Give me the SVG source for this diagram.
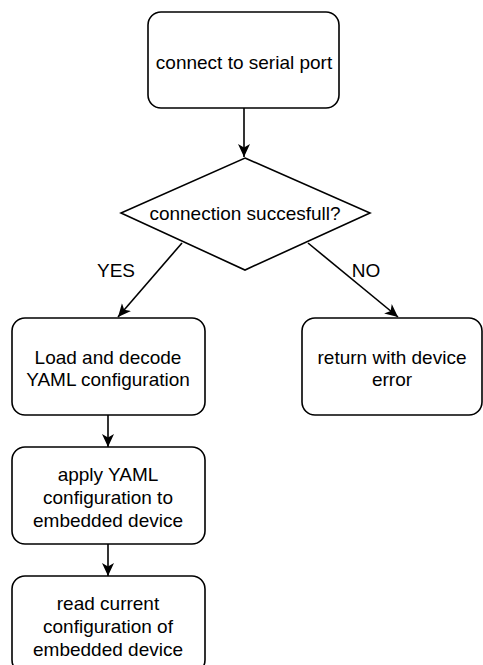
<svg xmlns="http://www.w3.org/2000/svg" width="483" height="665" viewBox="0 0 483 665">
<defs>
<style>
.n{fill:#fff;stroke:#000;stroke-width:1.6}
.t{font-family:"Liberation Sans",Arial,sans-serif;font-size:19px;fill:#000;text-anchor:middle}
.c{fill:none;stroke:#000;stroke-width:1.6}
</style>
<marker id="ah" markerWidth="14" markerHeight="14" viewBox="0 0 14 14" refX="13" refY="7" orient="auto" markerUnits="userSpaceOnUse">
<path d="M0,1 L13,7 L0,13 L3.5,7 Z" fill="#000"/>
</marker>
</defs>
<rect width="483" height="665" fill="#fff"/>
<g id="connectors">
<line class="c" x1="244" y1="108" x2="244" y2="157" marker-end="url(#ah)"/>
<line class="c" x1="182" y1="243" x2="118" y2="317" marker-end="url(#ah)"/>
<line class="c" x1="308" y1="243" x2="398" y2="317" marker-end="url(#ah)"/>
<line class="c" x1="108" y1="415" x2="108" y2="447" marker-end="url(#ah)"/>
<line class="c" x1="108" y1="544" x2="108" y2="576" marker-end="url(#ah)"/>
<text class="t" x="116" y="277">YES</text>
<text class="t" x="366" y="277">NO</text>
</g>
<g id="connect">
<rect class="n" x="148" y="12" width="191" height="96" rx="13"/>
<text class="t" x="244" y="69">connect to serial port</text>
</g>
<g id="decision">
<polygon class="n" points="245,158 370,213 245,270 121,213"/>
<text class="t" x="245" y="220">connection succesfull?</text>
</g>
<g id="load">
<rect class="n" x="12" y="318" width="193" height="97" rx="13"/>
<text class="t" x="108" y="364">Load and decode</text>
<text class="t" x="108" y="386">YAML configuration</text>
</g>
<g id="error">
<rect class="n" x="302" y="318" width="180" height="97" rx="13"/>
<text class="t" x="392" y="364">return with device</text>
<text class="t" x="392" y="386">error</text>
</g>
<g id="apply">
<rect class="n" x="12" y="447" width="193" height="97" rx="13"/>
<text class="t" x="108" y="481">apply YAML</text>
<text class="t" x="108" y="504">configuration to</text>
<text class="t" x="108" y="527">embedded device</text>
</g>
<g id="read">
<rect class="n" x="12" y="576" width="193" height="97" rx="13"/>
<text class="t" x="108" y="610">read current</text>
<text class="t" x="108" y="633">configuration of</text>
<text class="t" x="108" y="656">embedded device</text>
</g>
</svg>
